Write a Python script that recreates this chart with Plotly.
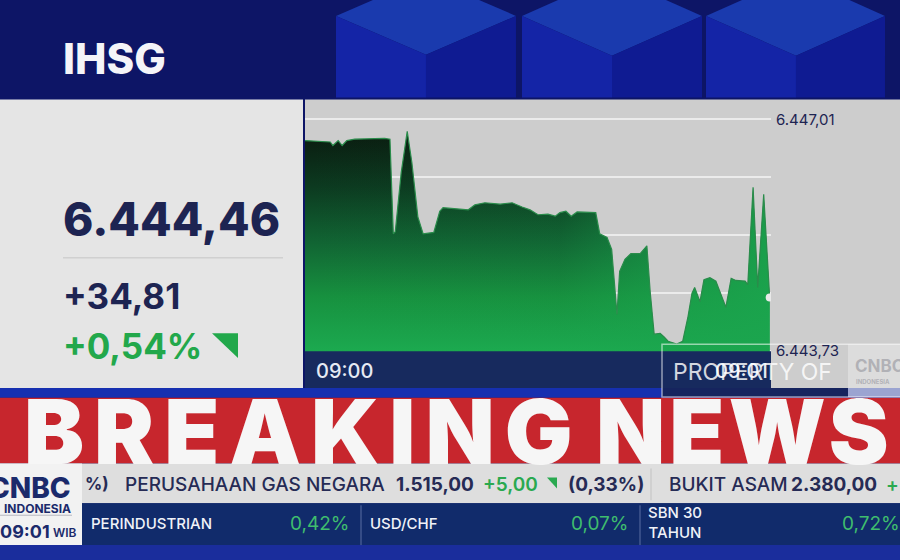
import plotly.graph_objects as go

# ---------------- data ----------------
index_name = "IHSG"
last_value = "6.444,46"
change_abs = "+34,81"
change_pct = "+0,54%"

# seconds after 09:00:00
times = [-1.4, 0.9, 2.4, 2.8, 3.6, 4.2, 4.9, 6.1, 8.4, 10.6, 11.4, 11.9, 12.2, 13.1,
         14.0, 14.7, 15.6, 16.4, 18.0, 18.9, 19.4, 21.9, 23.2, 24.2, 25.7, 28.0, 29.8,
         31.3, 32.5, 33.7, 35.2, 36.3, 37.0, 37.9, 38.7, 39.6, 41.5, 42.4, 43.0, 44.1,
         44.8, 45.6, 46.0, 46.8, 47.7, 49.1, 50.1, 50.6, 51.2, 52.1, 52.7, 53.3, 54.6,
         55.5, 56.3, 56.9, 57.3, 58.1, 58.7, 59.6, 60.5, 61.1, 62.0, 62.8, 63.5, 64.9,
         65.3, 66.1, 66.8, 67.7, 68.6]
values = [6446.71, 6446.70, 6446.69, 6446.64, 6446.71, 6446.64, 6446.71, 6446.73, 6446.74,
          6446.74, 6446.73, 6445.39, 6445.42, 6446.26, 6446.84, 6446.40, 6445.63, 6445.39,
          6445.41, 6445.71, 6445.76, 6445.74, 6445.73, 6445.80, 6445.83, 6445.81, 6445.83,
          6445.77, 6445.73, 6445.66, 6445.67, 6445.64, 6445.69, 6445.71, 6445.64, 6445.70,
          6445.70, 6445.69, 6445.39, 6445.34, 6445.17, 6444.25, 6444.86, 6445.03, 6445.11,
          6445.11, 6445.22, 6444.57, 6443.97, 6443.98, 6443.93, 6443.87, 6443.83, 6443.87,
          6444.22, 6444.55, 6444.63, 6444.43, 6444.74, 6444.77, 6444.72, 6444.57, 6444.35,
          6444.76, 6444.73, 6444.72, 6444.67, 6446.05, 6444.63, 6445.95, 6444.49]

grid_values = [6443.73, 6444.55, 6445.37, 6446.19, 6447.01]
grid_labels = ["6.443,73", "", "", "", "6.447,01"]
time_ticks = [0, 60]
time_labels = ["09:00", "09:01"]

# ---------------- layout helpers ----------------
W, H = 900, 560
FONT = "Inter, 'Open Sans', sans-serif"
NAVY_TXT = "#1d2452"
GREEN = "#22a84b"


def X(p):
    return p / W


def Y(p):
    return 1 - p / H


shapes = []
annotations = []


def rect(x0, y0, x1, y1, fill, layer="below", line_color=None, line_width=0):
    shapes.append(dict(type="rect", xref="paper", yref="paper",
                       x0=X(x0), x1=X(x1), y0=Y(y1), y1=Y(y0),
                       fillcolor=fill, layer=layer,
                       line=dict(width=line_width, color=line_color or "rgba(0,0,0,0)")))


def poly(pts, fill, layer="below"):
    d = "M " + " L ".join(f"{X(x):.5f},{Y(y):.5f}" for x, y in pts) + " Z"
    shapes.append(dict(type="path", xref="paper", yref="paper", path=d,
                       fillcolor=fill, layer=layer, line=dict(width=0)))


def line(x0, y0, x1, y1, color, width=1, layer="below"):
    shapes.append(dict(type="line", xref="paper", yref="paper",
                       x0=X(x0), x1=X(x1), y0=Y(y0), y1=Y(y1), layer=layer,
                       line=dict(color=color, width=width)))


def text(t, x, y, size, color, weight=400, anchor="left", xref="paper", family=FONT):
    annotations.append(dict(text=t, x=(x if xref != "paper" else X(x)), y=Y(y),
                            xref=xref, yref="paper", xanchor=anchor, yanchor="middle",
                            showarrow=False,
                            font=dict(family=family, size=size, color=color, weight=weight)))


# ---- top band with cubes ----
rect(0, 0, 900, 97, "#0d1566")
cubes = [((336, 13), (426, 52), (516, 13), (426, -26)),
         ((522, 13), (612, 53), (702, 13), (612, -27)),
         ((706, 13), (796, 53), (885, 13), (796, -27))]
for L, B, R, T in cubes:
    poly([L, T, R, B], "#1a3aae")
    poly([L, B, (B[0], 95), (L[0], 95)], "#1424a6")
    poly([B, R, (R[0], 95), (B[0], 95)], "#0f1b92")

# ---- panels ----
rect(0, 97, 303, 387, "#e5e5e5")
rect(305, 97, 900, 387, "#cdcdcd")
line(63, 256, 283, 256, "#d0d0d0", 1.5)
poly([(212, 332), (238, 332), (238, 357)], GREEN)

# chart bottom navy strip
rect(305, 350, 771, 387, "#172a5e", layer="above")
# lower bands
rect(0, 387, 900, 397, "#1630b0")
rect(0, 397, 900, 463, "#c7262d")
rect(0, 463, 900, 503, "#dedede")
rect(82, 503, 900, 545, "#112b6b")
rect(0, 545, 900, 560, "#1a2d9c")
line(651, 468, 651, 500, "#c2c2c2", 1)
line(361, 505, 361, 545, "#5a6ea3", 1)
line(640, 505, 640, 545, "#5a6ea3", 1)
poly([(547, 477), (557, 477), (557, 488)], "#2aa950")

# watermark box
rect(662, 387, 848, 396, "#16245e", layer="above")
rect(848, 343, 905, 396, "rgba(228,228,228,0.65)", layer="above")
rect(662, 343, 905, 396, "rgba(0,0,0,0)", layer="above",
     line_color="rgba(255,255,255,0.55)", line_width=1.5)

# ---- texts ----
text(index_name, 61, 56, 42, "#f4f4f8", 800)
text(last_value, 61, 217, 46, NAVY_TXT, 800)
text(change_abs, 61, 295, 35, NAVY_TXT, 700)
text(change_pct, 61, 345, 35, GREEN, 700)

for tv, tl in zip(time_ticks, time_labels):
    text(tl, tv, 370, 20, "#e6eaf4", 500, xref="x")

text("PROPERTY OF", 671, 371, 23, "rgba(255,255,255,0.82)", 400)
text("CNBC", 853, 365, 17, "rgba(140,140,150,0.55)", 700)
text("INDONESIA", 854, 381, 6, "rgba(140,140,150,0.55)", 700)

text('<span style="letter-spacing:10px">BREAKING</span>', 303, 431, 90, "#f6f6f6", 900, anchor="center")
text('<span style="letter-spacing:4px">NEWS</span>', 744, 431, 90, "#f6f6f6", 900, anchor="center")

# ticker line
TK = "#262b55"
text("%)", 83, 484, 17, TK, 700)
text("PERUSAHAAN GAS NEGARA", 123, 484, 19, TK, 500)
text("1.515,00", 394, 484, 19, TK, 700)
text("+5,00", 481, 484, 19, "#2aa950", 600)
text("(0,33%)", 566, 484, 19, TK, 700)
text("BUKIT ASAM", 667, 484, 19, TK, 500)
text("2.380,00", 789, 484, 19, TK, 700)
text("+", 884, 484, 19, "#2aa950", 600)

# bottom navy bar
text("PERINDUSTRIAN", 89, 523, 15, "#f0f2f8", 500)
text("0,42%", 352, 523, 19, "#3fbd6e", 400, anchor="right")
text("USD/CHF", 368, 523, 15, "#f0f2f8", 500)
text("0,07%", 631, 523, 19, "#3fbd6e", 400, anchor="right")
text("SBN 30<br>TAHUN", 646, 522, 15, "#f0f2f8", 500)
text("0,72%", 902, 523, 19, "#3fbd6e", 400, anchor="right")

# logo box (drawn above so it hides the start of the ticker)
rect(0, 463, 82, 545, "#f2f2f2", layer="above")
line(0, 515, 72, 515, "#b8b8c0", 1, layer="above")
text("CNBC", 73, 488, 28, "#1b2a6b", 800, anchor="right")
text("INDONESIA", 73, 508, 12, "#1b2a6b", 700, anchor="right")
text("09:01", -2, 531, 18, "#1b2a6b", 700)
text("WIB", 51, 532, 12, "#1b2a6b", 600)

# ---------------- figure ----------------
fig = go.Figure()
fig.add_trace(go.Scatter(
    x=times, y=values, mode="lines", fill="tozeroy",
    line=dict(width=0, color="rgba(0,0,0,0)"),
    fillgradient=dict(type="vertical", start=grid_values[0], stop=max(values),
                      colorscale=[[0, "#1caa50"], [0.25, "#17913f"], [0.5, "#116433"],
                                  [0.75, "#0c3a20"], [1, "#0a1a0f"]]),
    hoverinfo="skip", showlegend=False))
fig.add_trace(go.Scatter(
    x=times, y=values, mode="lines", fill="tozeroy",
    line=dict(width=1.2, color="#2a8c4b"),
    fillgradient=dict(type="horizontal", start=times[0], stop=times[-1],
                      colorscale=[[0, "rgba(27,165,78,0)"], [0.55, "rgba(27,165,78,0.05)"],
                                  [0.75, "rgba(27,165,78,0.5)"], [1, "rgba(27,165,78,0.9)"]]),
    hoverinfo="skip", showlegend=False))
fig.add_trace(go.Scatter(
    x=[times[-1]], y=[values[-1]], mode="markers",
    marker=dict(size=8, color="#e9e9e9"), hoverinfo="skip", showlegend=False))

y_lo, y_hi = 6443.60, 6447.10
px_per_unit = (350 - 117) / (grid_values[-1] - grid_values[0])
y_bottom_px = 350 + (grid_values[0] - y_lo) * px_per_unit
y_top_px = 117 - (y_hi - grid_values[-1]) * px_per_unit

fig.update_layout(
    width=W, height=H, margin=dict(l=0, r=0, t=0, b=0),
    paper_bgcolor="#0d1566", plot_bgcolor="rgba(0,0,0,0)", showlegend=False,
    hovermode=False,
    xaxis=dict(domain=[X(305), X(771)], range=[times[0], 68.8], showgrid=False,
               zeroline=False, showticklabels=False, ticks="", fixedrange=True),
    yaxis=dict(domain=[Y(y_bottom_px), Y(y_top_px)], range=[y_lo, y_hi], side="right",
               tickvals=grid_values, ticktext=grid_labels, showgrid=True,
               gridcolor="#ebebeb", gridwidth=2, zeroline=False, ticks="",
               ticklabelstandoff=4, fixedrange=True,
               tickfont=dict(family=FONT, size=15, color=NAVY_TXT)),
    shapes=shapes, annotations=annotations,
)

fig.write_html("out.html", config={"displayModeBar": False, "staticPlot": True},
               post_script="document.body.style.margin='0';document.body.style.overflow='hidden';")
